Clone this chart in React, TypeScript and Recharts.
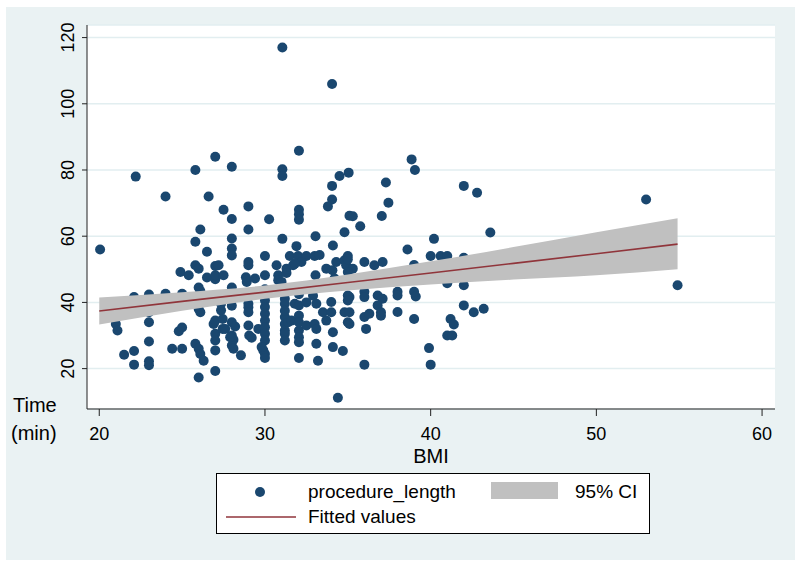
import { Area, CartesianGrid, ComposedChart, Label, Line, Scatter, XAxis, YAxis } from 'recharts';

// [BMI, procedure length in minutes]
const bmiUnder27 = [
  [20.05, 56], [21, 33.5], [21.1, 31.5], [21.5, 24.2], [22.1, 25.3], [22.1, 21.2], [22.2, 78], [22.1, 41.6],
  [23, 42.4], [23, 37], [23, 34], [23, 28.2], [23, 22.2], [23, 21],
  [24, 72], [24, 42.6], [24.4, 26], [25, 26], [24.8, 31.3], [25, 32.4], [24.9, 49.2], [25.4, 48.2], [25, 42.6],
  [25.8, 80], [25.8, 58.3], [26.1, 62], [26.5, 55.3], [25.8, 51.2], [26, 50.2], [26, 44.5], [26.1, 43.4],
  [25.8, 39.6], [26, 38], [26.1, 37], [25.8, 27.5], [26, 26], [26.1, 24.4], [26.3, 22.4], [26, 17.3],
  [26.6, 72], [26.5, 47.5],
];
const bmi27to29 = [
  [27, 84], [27.5, 68], [27, 51], [27, 47], [27, 48.2], [27.5, 48.2], [27.2, 51.2],
  [26.9, 33.5], [27, 34.5], [27, 30.5], [27, 28.5], [27, 25.5], [27, 19.3], [27.45, 32], [27.35, 39.6], [27.35, 37.6], [27.45, 35],
  [28, 81], [28, 65.2], [28, 59.3], [28, 56.3], [28, 54.2], [28, 44.5], [28, 39], [28, 34], [28.2, 32.7], [28, 30],
  [28.1, 28.7], [28, 27], [28.1, 26], [28.55, 24], [27.9, 29.5], [27.6, 32],
  [29, 69], [29, 62], [29, 52.2], [29, 51.2], [28.9, 46.2], [29.4, 47.2], [28.85, 47.6], [29, 39.6], [29, 38.5],
  [29, 37], [29, 33], [29.05, 30], [29.6, 32], [29.2, 29.3],
];
const bmi30to31 = [
  [30.25, 65.1], [30, 54], [30, 48.2], [30.7, 51.2], [30.8, 48.2], [30.8, 46.7], [31, 46.2],
  [30, 44], [30, 42], [30, 40.6], [30, 38.6], [30, 36.6], [30, 34.5], [30, 32.5], [30, 30.5], [30, 28.5],
  [29.9, 25.5], [30, 24.4], [30, 23.2], [29.8, 26.5],
  [31.05, 117], [31.05, 80.2], [31.05, 78.2], [31.05, 59.2], [31.5, 54], [31.3, 50.2], [31.7, 51.2], [31.3, 48.9],
  [31.2, 41.1], [31.2, 39.6], [31.2, 35.6], [31.2, 33.5], [31.2, 31.5], [31.2, 30.5], [31.2, 28.5], [31.2, 37.5],
  [31.8, 39.6], [31.4, 34], [31.6, 34.5],
];
const bmi32to33 = [
  [32.05, 85.8], [32.05, 68], [32.05, 66.6], [32.05, 65], [31.9, 57], [32, 54], [32.5, 54], [32.2, 52.2], [31.8, 51.7],
  [32.05, 39.1], [32.05, 31.5], [32.05, 29.5], [32.05, 28], [32.05, 23.2], [32.05, 42.5], [32.05, 36], [32.05, 34],
  [32.5, 40], [32.5, 33],
  [33.05, 60], [33, 54], [33.3, 54.3], [33.05, 48.2], [33.7, 50.2], [32.9, 42], [33.1, 39.6], [33, 33.5], [33.1, 32],
  [33.1, 27.5], [33.2, 22.4], [33.7, 34.5], [33.5, 37],
];
const bmi34to35 = [
  [34.05, 106], [34.05, 75.2], [34.05, 71.1], [33.8, 69], [34.5, 78.2], [35.05, 79.2], [35.1, 66.2], [35.3, 66],
  [35.75, 63], [34.8, 61.2], [34.1, 57.2],
  [34.3, 52.2], [34.07, 49.7], [34.2, 47.2], [34.8, 52.7], [34.9, 51.2], [35, 54], [35, 53], [35.3, 50.2], [35, 49.2], [35, 46.7],
  [34, 40.1], [34, 37], [34.1, 31], [34.1, 26.5], [34.7, 25.3], [34.8, 37], [35, 34], [35.1, 41.6], [35, 42.1],
  [35, 40.6], [35.1, 37], [35.1, 33.5], [34.4, 11.2],
];
const bmi36to44 = [
  [36, 52.2], [36.6, 51.2], [37.1, 52.2], [37.3, 76.2], [37.45, 70.1], [37.05, 66.1],
  [36, 43.2], [36, 41.6], [36, 35.6], [36.3, 36.6], [36.1, 32], [36, 21.2],
  [36.8, 42.1], [37.1, 41.1], [36.8, 39.1], [37, 37], [37, 36],
  [38, 43.2], [38, 42.1], [38, 37.1], [38.6, 56], [38.85, 83.2], [39.05, 80], [39, 51.3], [39, 43.2], [39.1, 41.8], [39, 35],
  [40.2, 59.2], [40, 54], [40.6, 54], [41, 54], [42, 53.5], [39.9, 26.2], [40, 21.2],
  [41, 45.8], [42, 45.2], [42, 39.1], [42.6, 37], [43.2, 38.1], [41.2, 35], [41.4, 33.3], [41, 30], [41.3, 30],
  [42, 75.2], [42.8, 73.1], [43.6, 61.1],
];
const bmiOver50 = [[53, 71.1], [54.9, 45.2]];

// linear fit and its 95% confidence band, read at a few BMI values
const fitBmi = [20, 25, 30, 35, 40, 45, 50, 54.9];
const fitValues = [37.4, 40.3, 43.1, 46.0, 48.9, 51.8, 54.7, 57.6];
const ciLower = [33.3, 37.5, 41.1, 43.6, 45.4, 46.9, 48.2, 50.0];
const ciUpper = [41.5, 43.1, 45.1, 48.4, 52.4, 56.7, 61.2, 65.4];

const xTicks = [20, 30, 40, 50, 60];
const yTicks = [20, 40, 60, 80, 100, 120];
const xDomain = [19.26, 60.78];
const yDomain = [7.8, 123.8];

const navy = '#1a476f';
const maroon = '#90353b';
const bandGray = '#c0c0c0';
const font = '"Liberation Sans", Arial, sans-serif';

function Dot({ cx, cy }: { cx?: number; cy?: number }) {
  if (cx == null || cy == null) return null;
  return <circle cx={cx} cy={cy} r={5} fill={navy} />;
}

function XTick({ x, y, payload }: { x?: number; y?: number; payload?: { value: number } }) {
  return (
    <text x={x} y={(y ?? 0) + 22} textAnchor="middle" fontSize={18} fontFamily={font} fill="#000">
      {payload?.value}
    </text>
  );
}

function YTick({ x, y, payload }: { x?: number; y?: number; payload?: { value: number } }) {
  const bx = (x ?? 0) - 6;
  return (
    <text
      x={bx}
      y={y}
      transform={`rotate(-90, ${bx}, ${y})`}
      textAnchor="middle"
      fontSize={18}
      fontFamily={font}
      fill="#000"
    >
      {payload?.value}
    </text>
  );
}

type Box = { x?: number; y?: number; width?: number; height?: number };

function BmiLabel({ viewBox }: { viewBox?: Box }) {
  const vb = viewBox ?? {};
  return (
    <text x={(vb.x ?? 0) + (vb.width ?? 0) / 2} y={(vb.y ?? 0) + 54} textAnchor="middle" fontSize={20} fontFamily={font} fill="#000">
      BMI
    </text>
  );
}

function TimeLabel({ viewBox }: { viewBox?: Box }) {
  const vb = viewBox ?? {};
  const bottom = (vb.y ?? 0) + (vb.height ?? 0);
  return (
    <g fontSize={20} fontFamily={font} fill="#000">
      <text x={13} y={bottom + 3}>Time</text>
      <text x={11} y={bottom + 31}>(min)</text>
    </g>
  );
}

export default function App() {
  const points = [...bmiUnder27, ...bmi27to29, ...bmi30to31, ...bmi32to33, ...bmi34to35, ...bmi36to44, ...bmiOver50].map(
    ([bmi, time]) => ({ bmi, time })
  );
  const band = fitBmi.map((bmi, i) => ({ bmi, fit: fitValues[i], ci: [ciLower[i], ciUpper[i]] }));

  return (
    <div style={{ position: 'relative', width: 800, height: 567, background: '#fff' }}>
      <style>{'body{margin:0}'}</style>
      <div style={{ position: 'absolute', left: 6, top: 7, width: 789, height: 553, background: '#eaf2f3' }} />
      {/* scatter layer with the axes */}
      <div style={{ position: 'absolute', left: 0, top: 0 }}>
        <ComposedChart width={800} height={567} margin={{ top: 25, right: 25, bottom: 0, left: 0 }}>
          <CartesianGrid vertical={false} fill="#fff" stroke="#e2eef0" strokeWidth={1.5} />
          <XAxis
            type="number"
            dataKey="bmi"
            domain={xDomain}
            ticks={xTicks}
            allowDataOverflow
            height={158}
            stroke="#222"
            tickSize={7}
            tick={<XTick />}
          >
            <Label content={<BmiLabel />} />
          </XAxis>
          <YAxis
            type="number"
            domain={yDomain}
            ticks={yTicks}
            allowDataOverflow
            width={87}
            stroke="#222"
            tickSize={5}
            tick={<YTick />}
          >
            <Label content={<TimeLabel />} />
          </YAxis>
          <Scatter data={points} dataKey="time" shape={<Dot />} isAnimationActive={false} />
        </ComposedChart>
      </div>
      {/* CI band and fitted line sit on top of the markers, as in Stata */}
      <div style={{ position: 'absolute', left: 0, top: 0 }}>
        <ComposedChart width={800} height={567} data={band} margin={{ top: 25, right: 25, bottom: 158, left: 87 }}>
          <XAxis type="number" dataKey="bmi" domain={xDomain} allowDataOverflow hide />
          <YAxis type="number" domain={yDomain} allowDataOverflow hide />
          <Area dataKey="ci" type="monotone" fill={bandGray} fillOpacity={1} stroke="none" isAnimationActive={false} />
          <Line dataKey="fit" type="linear" stroke={maroon} strokeWidth={1.6} dot={false} isAnimationActive={false} />
        </ComposedChart>
      </div>
      <svg style={{ position: 'absolute', left: 216, top: 473 }} width={435} height={62}>
        <rect x={0.5} y={0.5} width={433} height={60} fill="#fff" stroke="#000" strokeWidth={1} />
        <circle cx={44} cy={19} r={5} fill={navy} />
        <text x={92} y={25} fontSize={19} fontFamily={font} fill="#000">procedure_length</text>
        <rect x={275} y={9} width={67} height={17} fill={bandGray} />
        <text x={359} y={25} fontSize={19} fontFamily={font} fill="#000">95% CI</text>
        <line x1={10} y1={44} x2={80} y2={44} stroke={maroon} strokeWidth={1.6} />
        <text x={92} y={50} fontSize={19} fontFamily={font} fill="#000">Fitted values</text>
      </svg>
    </div>
  );
}
